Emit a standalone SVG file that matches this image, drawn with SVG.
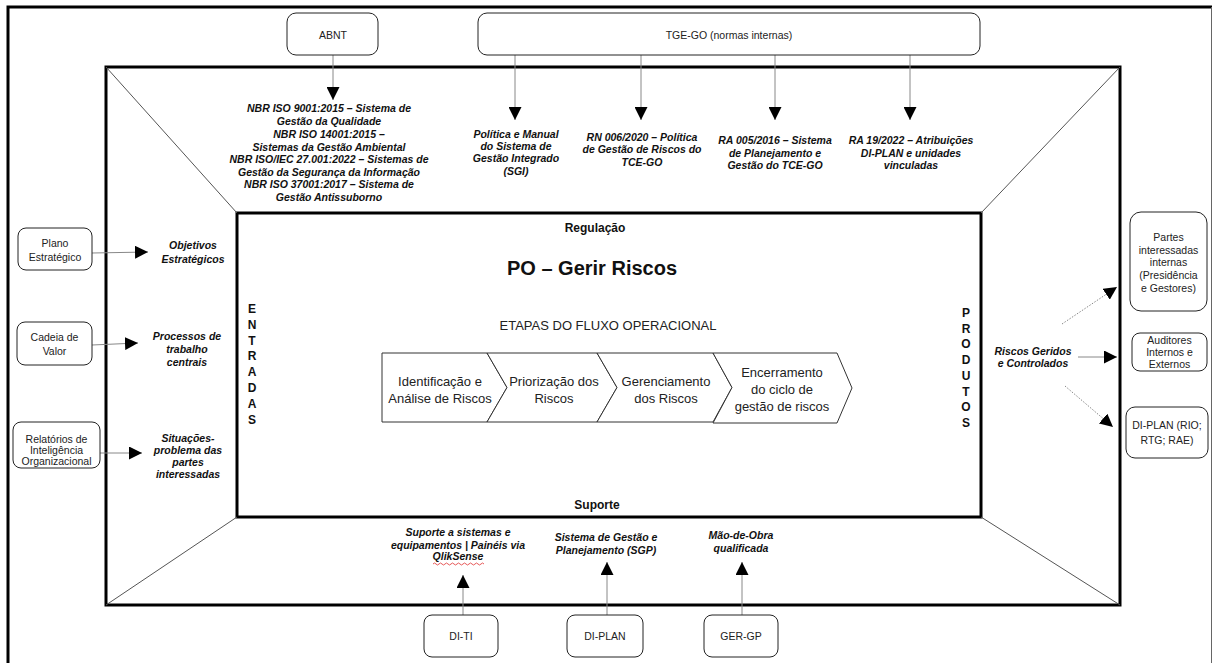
<svg xmlns="http://www.w3.org/2000/svg" width="1213" height="663" viewBox="0 0 1213 663">
<style>
.frame{fill:none;stroke:#000;stroke-width:3}
.diag{stroke:#555;stroke-width:1;fill:none}
.box{fill:#fff;stroke:#222;stroke-width:1}
.chev{fill:#fff;stroke:#333;stroke-width:1}
.lbl{font-family:"Liberation Sans",Arial,sans-serif;font-size:10.5px;fill:#222;text-anchor:middle}
.it{font-family:"Liberation Sans",Arial,sans-serif;font-size:10.5px;font-style:italic;font-weight:bold;fill:#111;text-anchor:middle}
.ch{font-family:"Liberation Sans",Arial,sans-serif;font-size:13px;fill:#222;text-anchor:middle}
.hd{font-family:"Liberation Sans",Arial,sans-serif;font-weight:bold;fill:#111;text-anchor:middle}
.conn{stroke:#888;stroke-width:1;fill:none}
.dot{stroke-dasharray:1.5 1.5}
</style>
<defs>
<marker id="arr" markerUnits="userSpaceOnUse" markerWidth="13" markerHeight="13" refX="13" refY="6.5" orient="auto">
<path d="M0,0 L13,6.5 L0,13 Z" fill="#000"/>
</marker>
</defs>
<rect width="1213" height="663" fill="#fff"/>
<g id="frames">
<path d="M8,670 L8,7 L1212,7" class="frame"/>
<line x1="1211.5" y1="7" x2="1211.5" y2="663" stroke="#666" stroke-width="1"/>
<rect x="106" y="67" width="1014" height="538" class="frame"/>
<rect x="237" y="213" width="744" height="304" class="frame"/>
<line x1="106" y1="67" x2="237" y2="213" class="diag"/>
<line x1="1120" y1="67" x2="981" y2="213" class="diag"/>
<line x1="106" y1="605" x2="237" y2="517" class="diag"/>
<line x1="1120" y1="605" x2="981" y2="517" class="diag"/>
</g>
<g id="connectors">
<line x1="333" y1="55" x2="333" y2="100" class="conn" marker-end="url(#arr)"/>
<line x1="515" y1="55" x2="515" y2="120" class="conn" marker-end="url(#arr)"/>
<line x1="641" y1="55" x2="641" y2="120" class="conn" marker-end="url(#arr)"/>
<line x1="775" y1="55" x2="775" y2="120" class="conn" marker-end="url(#arr)"/>
<line x1="910" y1="55" x2="910" y2="120" class="conn" marker-end="url(#arr)"/>
<line x1="92" y1="253" x2="148" y2="252" class="conn" marker-end="url(#arr)"/>
<line x1="92" y1="345" x2="138" y2="343" class="conn" marker-end="url(#arr)"/>
<line x1="100" y1="453" x2="142" y2="453" class="conn" marker-end="url(#arr)"/>
<line x1="1062" y1="324" x2="1117" y2="287" class="conn dot" marker-end="url(#arr)"/>
<line x1="1078" y1="357" x2="1117" y2="357" class="conn" marker-end="url(#arr)"/>
<line x1="1065" y1="386" x2="1113" y2="427" class="conn dot" marker-end="url(#arr)"/>
<line x1="463" y1="615" x2="463" y2="575" class="conn" marker-end="url(#arr)"/>
<line x1="607" y1="615" x2="607" y2="562" class="conn" marker-end="url(#arr)"/>
<line x1="742" y1="615" x2="742" y2="562" class="conn" marker-end="url(#arr)"/>
</g>
<g id="abnt">
<rect x="287" y="13" width="91" height="42" rx="9" class="box"/>
<text x="333" y="39" class="lbl">ABNT</text>
</g>
<g id="tge-go">
<rect x="478" y="13" width="502" height="42" rx="9" class="box"/>
<text x="729" y="39" class="lbl">TGE-GO (normas internas)</text>
</g>
<g id="normas-abnt">
<text class="it"><tspan x="329" y="112">NBR ISO 9001:2015 – Sistema de</tspan><tspan x="329" y="125">Gestão da Qualidade</tspan><tspan x="329" y="138">NBR ISO 14001:2015 –</tspan><tspan x="329" y="151">Sistemas da Gestão Ambiental</tspan><tspan x="329" y="163">NBR ISO/IEC 27.001:2022 – Sistemas de</tspan><tspan x="329" y="176">Gestão da Segurança da Informação</tspan><tspan x="329" y="188">NBR ISO 37001:2017 – Sistema de</tspan><tspan x="329" y="201">Gestão Antissuborno</tspan></text>
</g>
<g id="sgi">
<text class="it"><tspan x="516" y="138">Política e Manual</tspan><tspan x="516" y="150">do Sistema de</tspan><tspan x="516" y="162">Gestão Integrado</tspan><tspan x="516" y="175">(SGI)</tspan></text>
</g>
<g id="rn006">
<text class="it"><tspan x="642" y="141">RN 006/2020 – Política</tspan><tspan x="642" y="153">de Gestão de Riscos do</tspan><tspan x="642" y="166">TCE-GO</tspan></text>
</g>
<g id="ra005">
<text class="it"><tspan x="775" y="144">RA 005/2016 – Sistema</tspan><tspan x="775" y="157">de Planejamento e</tspan><tspan x="775" y="169">Gestão do TCE-GO</tspan></text>
</g>
<g id="ra19">
<text class="it"><tspan x="911" y="144">RA 19/2022 – Atribuições</tspan><tspan x="911" y="157">DI-PLAN e unidades</tspan><tspan x="911" y="169">vinculadas</tspan></text>
</g>
<g id="plano">
<rect x="18" y="228" width="74" height="42" rx="8" class="box"/>
<text class="lbl"><tspan x="55" y="247">Plano</tspan><tspan x="55" y="261">Estratégico</tspan></text>
</g>
<g id="cadeia">
<rect x="17" y="322" width="75" height="43" rx="8" class="box"/>
<text class="lbl"><tspan x="54.5" y="341">Cadeia de</tspan><tspan x="54.5" y="355">Valor</tspan></text>
</g>
<g id="relatorios">
<rect x="13" y="422" width="87" height="46" rx="8" class="box"/>
<text class="lbl"><tspan x="56.5" y="443">Relatórios de</tspan><tspan x="56.5" y="454">Inteligência</tspan><tspan x="56.5" y="465">Organizacional</tspan></text>
</g>
<g id="objetivos">
<text class="it"><tspan x="193" y="249">Objetivos</tspan><tspan x="193" y="263">Estratégicos</tspan></text>
</g>
<g id="processos">
<text class="it"><tspan x="187" y="340">Processos de</tspan><tspan x="187" y="353">trabalho</tspan><tspan x="187" y="366">centrais</tspan></text>
</g>
<g id="situacoes">
<text class="it"><tspan x="188" y="442">Situações-</tspan><tspan x="188" y="454">problema das</tspan><tspan x="188" y="466">partes</tspan><tspan x="188" y="478">interessadas</tspan></text>
</g>
<g id="centro">
<text x="595" y="232" class="hd" font-size="12">Regulação</text>
<text x="592" y="275" class="hd" font-size="20">PO – Gerir Riscos</text>
<text x="608" y="330" class="ch">ETAPAS DO FLUXO OPERACIONAL</text>
<text x="597" y="509" class="hd" font-size="12">Suporte</text>
<text class="hd" font-size="12"><tspan x="252" y="313">E</tspan><tspan x="252" dy="15.8">N</tspan><tspan x="252" dy="15.8">T</tspan><tspan x="252" dy="15.8">R</tspan><tspan x="252" dy="15.8">A</tspan><tspan x="252" dy="15.8">D</tspan><tspan x="252" dy="15.8">A</tspan><tspan x="252" dy="15.8">S</tspan></text>
<text class="hd" font-size="12"><tspan x="966" y="317">P</tspan><tspan x="966" dy="15.7">R</tspan><tspan x="966" dy="15.7">O</tspan><tspan x="966" dy="15.7">D</tspan><tspan x="966" dy="15.7">U</tspan><tspan x="966" dy="15.7">T</tspan><tspan x="966" dy="15.7">O</tspan><tspan x="966" dy="15.7">S</tspan></text>
</g>
<g id="etapa1">
<path d="M382,353 L487,353 L507,387.5 L487,422 L382,422 Z" class="chev"/>
<text class="ch"><tspan x="440" y="386">Identificação e</tspan><tspan x="440" y="403">Análise de Riscos</tspan></text>
</g>
<g id="etapa2">
<path d="M487,353 L597,353 L617,387.5 L597,422 L487,422 L507,387.5 Z" class="chev"/>
<text class="ch"><tspan x="554" y="386">Priorização dos</tspan><tspan x="554" y="403">Riscos</tspan></text>
</g>
<g id="etapa3">
<path d="M597,353 L713,353 L732,387.5 L713,422 L597,422 L617,387.5 Z" class="chev"/>
<text class="ch"><tspan x="666" y="386">Gerenciamento</tspan><tspan x="666" y="403">dos Riscos</tspan></text>
</g>
<g id="etapa4">
<path d="M713,353 L837,353 L852,388 L837,423 L713,423 L732,387.5 Z" class="chev"/>
<text class="ch"><tspan x="782" y="377">Encerramento</tspan><tspan x="782" y="394">do ciclo de</tspan><tspan x="782" y="411">gestão de riscos</tspan></text>
</g>
<g id="riscos">
<text class="it"><tspan x="1033" y="355">Riscos Geridos</tspan><tspan x="1033" y="367">e Controlados</tspan></text>
</g>
<g id="partes">
<rect x="1130" y="212" width="77" height="99" rx="11" class="box"/>
<text class="lbl"><tspan x="1168.5" y="241">Partes</tspan><tspan x="1168.5" y="254">interessadas</tspan><tspan x="1168.5" y="266">internas</tspan><tspan x="1168.5" y="279">(Presidência</tspan><tspan x="1168.5" y="292">e Gestores)</tspan></text>
</g>
<g id="auditores">
<rect x="1132" y="333" width="75" height="38" rx="8" class="box"/>
<text class="lbl"><tspan x="1169.5" y="344">Auditores</tspan><tspan x="1169.5" y="356">Internos e</tspan><tspan x="1169.5" y="368">Externos</tspan></text>
</g>
<g id="diplan-out">
<rect x="1126" y="407" width="82" height="51" rx="9" class="box"/>
<text class="lbl"><tspan x="1167" y="429">DI-PLAN (RIO;</tspan><tspan x="1167" y="444">RTG; RAE)</tspan></text>
</g>
<g id="suporte-ti">
<text class="it"><tspan x="458" y="536">Suporte a sistemas e</tspan><tspan x="458" y="549">equipamentos | Painéis via</tspan><tspan x="458" y="560">QlikSense</tspan></text>
<path d="M433,564 q1.5,-2 3,0 t3,0 t3,0 t3,0 t3,0 t3,0 t3,0 t3,0 t3,0 t3,0 t3,0 t3,0 t3,0 t3,0 t3,0 t3,0 t3,0" fill="none" stroke="#e03030" stroke-width="0.8"/>
</g>
<g id="sgp">
<text class="it"><tspan x="606" y="541">Sistema de Gestão e</tspan><tspan x="606" y="554">Planejamento (SGP)</tspan></text>
</g>
<g id="mao-de-obra">
<text class="it"><tspan x="741" y="539">Mão-de-Obra</tspan><tspan x="741" y="552">qualificada</tspan></text>
</g>
<g id="di-ti">
<rect x="424" y="615" width="74" height="42" rx="8" class="box"/>
<text x="461" y="640" class="lbl">DI-TI</text>
</g>
<g id="di-plan">
<rect x="567" y="615" width="76" height="42" rx="8" class="box"/>
<text x="605" y="640" class="lbl">DI-PLAN</text>
</g>
<g id="ger-gp">
<rect x="704" y="615" width="74" height="42" rx="8" class="box"/>
<text x="741" y="640" class="lbl">GER-GP</text>
</g>
</svg>
